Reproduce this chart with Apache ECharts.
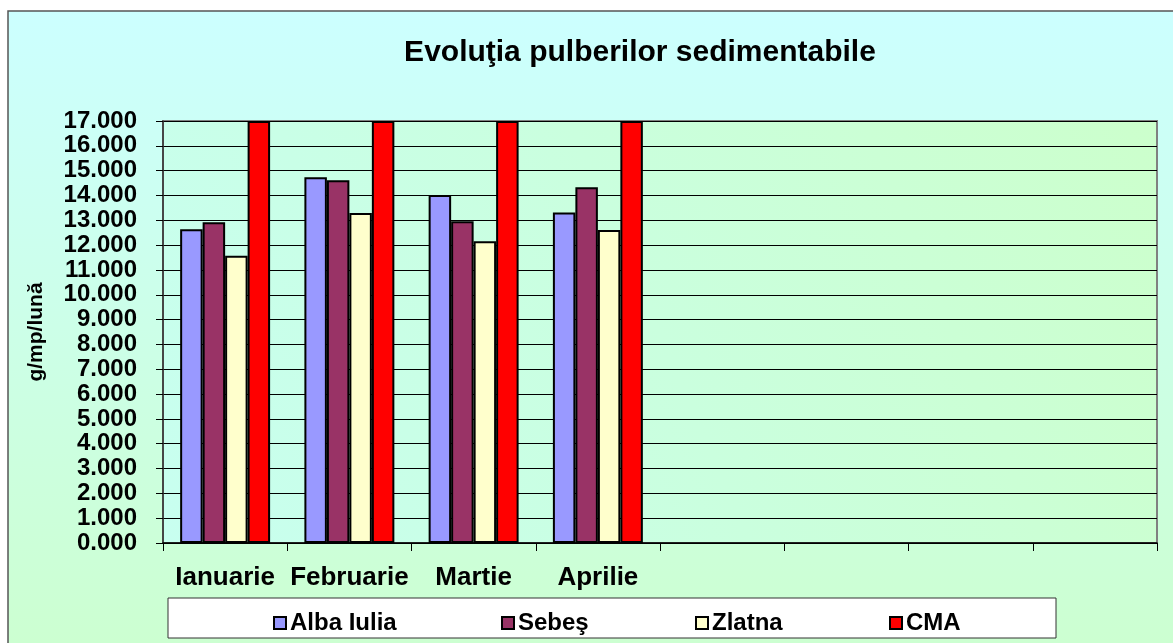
<!DOCTYPE html>
<html>
<head>
<meta charset="utf-8">
<script src="https://cdn.jsdelivr.net/npm/echarts@6/dist/echarts.min.js"></script>
<style>
html,body{margin:0;padding:0;background:#fff;}
#c{width:1173px;height:643px;}
</style>
</head>
<body>
<div id="c"></div>
<script>
const categories = ['Ianuarie', 'Februarie', 'Martie', 'Aprilie', '', '', '', ''];
const albaIulia = [12.64, 14.73, 14.02, 13.31];
const sebes = [12.92, 14.61, 12.96, 14.33];
const zlatna = [11.57, 13.29, 12.16, 12.61];
const cma = [17, 17, 17, 17];
const seriesNames = ['Alba Iulia', 'Sebeş', 'Zlatna', 'CMA'];
const seriesColors = ['#9999FF', '#993366', '#FFFFCC', '#FF0000'];
const seriesData = [albaIulia, sebes, zlatna, cma];
const legendLeft = [273, 501, 695, 889];

const font = '"Liberation Sans", Arial, sans-serif';
const chart = echarts.init(document.getElementById('c'), null, {renderer: 'canvas'});

const option = {
  backgroundColor: 'transparent',
  animation: false,
  title: {
    text: 'Evoluţia pulberilor sedimentabile',
    left: 640, top: 38, textAlign: 'center', padding: 0,
    textStyle: {fontFamily: font, fontWeight: 'bold', fontSize: 30, color: '#000'}
  },
  graphic: [
    {type: 'rect', z: -10, shape: {x: 8, y: 11, width: 1200, height: 700},
     style: {fill: new echarts.graphic.LinearGradient(0, 0, 0, 1, [
        {offset: 0, color: '#CCFFFF'}, {offset: 1, color: '#CCFFCC'}]),
        stroke: '#555', lineWidth: 1.5}},
    {type: 'rect', z: 1, shape: {x: 168, y: 598, width: 888, height: 40},
     style: {fill: '#FFFFFF', stroke: '#333', lineWidth: 1}}
  ],
  legend: seriesNames.map((n, i) => ({
    data: [n], left: legendLeft[i], top: 611, padding: 0,
    itemWidth: 12, itemHeight: 12, itemGap: 5, icon: 'rect',
    selectedMode: false,
    itemStyle: {borderColor: '#000', borderWidth: 2},
    textStyle: {fontFamily: font, fontWeight: 'bold', fontSize: 24, color: '#000', padding: [0, 0, 0, -1]}
  })),
  grid: {
    left: 163, right: 16, top: 121, bottom: 100,
    show: true, borderColor: '#808080', borderWidth: 2,
    backgroundColor: new echarts.graphic.LinearGradient(0, 1, 1, 0, [
      {offset: 0, color: '#C8FFF0'}, {offset: 1, color: '#CCFFCC'}])
  },
  xAxis: {
    type: 'category', data: categories,
    axisLine: {show: true, lineStyle: {color: '#000', width: 1.5}},
    axisTick: {show: true, length: 8, interval: 0, lineStyle: {color: '#000', width: 1}},
    axisLabel: {interval: 0, margin: 22, fontFamily: font, fontWeight: 'bold', fontSize: 26, color: '#000'},
    splitLine: {show: false}
  },
  yAxis: {
    type: 'value', min: 0, max: 17, interval: 1,
    name: 'g/mp/lună', nameLocation: 'middle', nameRotate: 90, nameGap: 116,
    nameTextStyle: {fontFamily: font, fontWeight: 'bold', fontSize: 21, color: '#000'},
    axisLine: {show: true, lineStyle: {color: '#333', width: 1.5}},
    axisTick: {show: true, length: 7, lineStyle: {color: '#000', width: 1}},
    axisLabel: {margin: 26, fontFamily: font, fontWeight: 'bold', fontSize: 24, color: '#000',
      formatter: v => v.toFixed(3)},
    splitLine: {show: true, lineStyle: {color: '#000', width: 1}}
  },
  series: seriesNames.map((n, i) => ({
    name: n, type: 'bar', data: seriesData[i],
    barGap: '0%', barCategoryGap: '27.6%',
    itemStyle: {color: seriesColors[i], borderColor: '#000', borderWidth: 2}
  }))
};
chart.setOption(option);
</script>
</body>
</html>
